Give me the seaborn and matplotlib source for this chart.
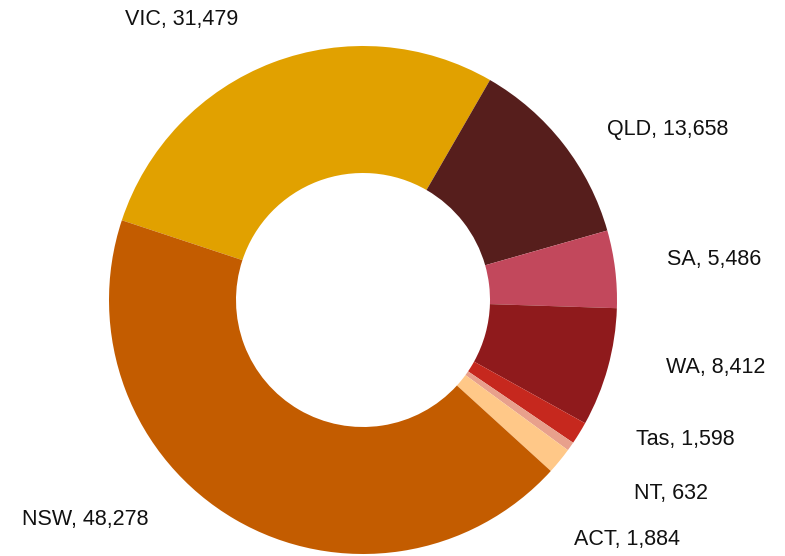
import matplotlib
matplotlib.use("Agg")
import matplotlib.pyplot as plt
import seaborn as sns

states = ["VIC", "QLD", "SA", "WA", "Tas", "NT", "ACT", "NSW"]
counts = [31479, 13658, 5486, 8412, 1598, 632, 1884, 48278]
colours = ["#E1A100", "#561E1C", "#C2485C", "#8F1A1C", "#C6281E",
           "#E8A08C", "#FFC888", "#C35C00"]

# label anchor (left edge, middle) in pixel offsets from the donut centre
label_pos = [(-238, 280), (244, 170), (304, 41), (303, -68),
             (273, -139), (271, -193), (211, -239), (-341, -220)]

sns.set_theme(style="white")
plt.rcParams['font.family'] = ['Liberation Sans', 'DejaVu Sans']

fig = plt.figure(figsize=(7.85, 5.56), dpi=100)
ax = fig.add_axes([0, 0, 1, 1])

cx, cy = 363, 300
total = sum(counts)
# VIC ends ~30 degrees clockwise from the top
start = 90 + (counts[0] / total * 360 - 30)

ax.pie(counts, colors=colours, radius=254, startangle=start,
       counterclock=False, wedgeprops=dict(width=127, linewidth=0))

for name, val, (px, py) in zip(states, counts, label_pos):
    ax.text(px, py, f"{name}, {val:,}", ha="left", va="center",
            fontsize=15.5, color="#111111")

ax.set_xlim(-cx, 785 - cx)
ax.set_ylim(-(556 - cy), cy)
ax.set_aspect("equal")
ax.axis("off")

plt.savefig("out.png", dpi=100)
